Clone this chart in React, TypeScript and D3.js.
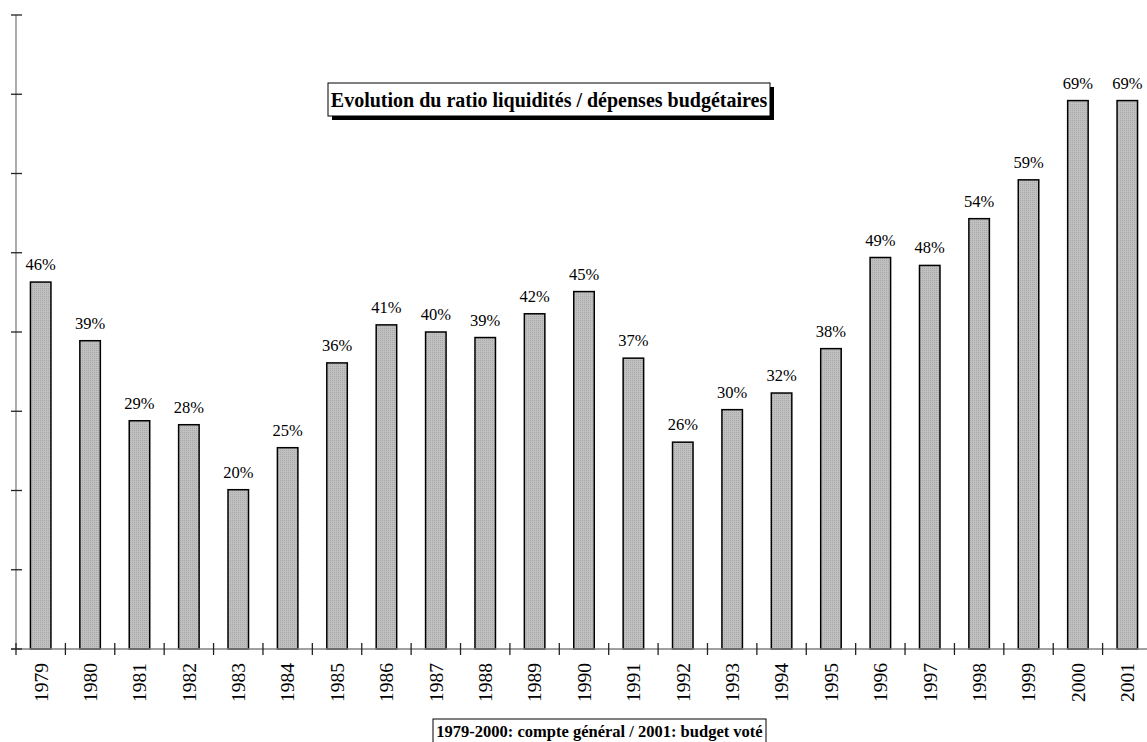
import React, { useEffect, useRef } from 'react';
import * as d3 from 'd3';

const years = ['1979', '1980', '1981', '1982', '1983', '1984', '1985', '1986', '1987', '1988', '1989', '1990',
  '1991', '1992', '1993', '1994', '1995', '1996', '1997', '1998', '1999', '2000', '2001'];
const ratios = [46.3, 38.9, 28.8, 28.3, 20.1, 25.4, 36.1, 40.9, 40.0, 39.3, 42.3, 45.1,
  36.7, 26.1, 30.2, 32.3, 37.9, 49.4, 48.4, 54.3, 59.2, 69.2, 69.2];
const valueLabels = ['46%', '39%', '29%', '28%', '20%', '25%', '36%', '41%', '40%', '39%', '42%', '45%',
  '37%', '26%', '30%', '32%', '38%', '49%', '48%', '54%', '59%', '69%', '69%'];
const yTicks = [0, 10, 20, 30, 40, 50, 60, 70, 80];
const title = 'Evolution du ratio liquidités / dépenses budgétaires';
const footnote = '1979-2000: compte général / 2001: budget voté';

const App: React.FC = () => {
  const svgRef = useRef<SVGSVGElement>(null);

  useEffect(() => {
    if (!svgRef.current) return;
    const svg = d3.select(svgRef.current);
    svg.selectAll('*').remove();

    const width = 1147;
    const height = 742;
    const x0 = 16, x1 = 1152, yBase = 649, yTop = 15;
    const font = "'Liberation Serif', 'DejaVu Serif', serif";

    svg.attr('width', width).attr('height', height).attr('viewBox', `0 0 ${width} ${height}`)
      .attr('font-family', font);

    // dotted grey fill like the original
    const defs = svg.append('defs');
    const pat = defs.append('pattern')
      .attr('id', 'dots')
      .attr('width', 2).attr('height', 2)
      .attr('patternUnits', 'userSpaceOnUse');
    pat.append('rect').attr('width', 2).attr('height', 2).attr('fill', '#c0c0c0');
    pat.append('rect').attr('width', 1).attr('height', 1).attr('fill', '#a8a8a8');

    const x = d3.scaleBand<string>().domain(years).range([x0, x1]).paddingInner(0).paddingOuter(0);
    const y = d3.scaleLinear().domain([0, 80]).range([yBase, yTop]);
    const barW = 20.5;

    // bars
    svg.append('g')
      .selectAll('rect')
      .data(years)
      .join('rect')
      .attr('x', d => x(d)! + x.bandwidth() / 2 - barW / 2)
      .attr('y', (d, i) => y(ratios[i]))
      .attr('width', barW)
      .attr('height', (d, i) => yBase - y(ratios[i]))
      .attr('fill', 'url(#dots)')
      .attr('stroke', '#000')
      .attr('stroke-width', 1.5);

    // value labels
    svg.append('g')
      .attr('text-anchor', 'middle')
      .attr('font-size', 16.5)
      .selectAll('text')
      .data(years)
      .join('text')
      .attr('x', d => x(d)! + x.bandwidth() / 2)
      .attr('y', (d, i) => y(ratios[i]) - 12)
      .text((d, i) => valueLabels[i]);

    // axes
    const axis = svg.append('g').attr('stroke-width', 1.3);
    axis.append('line')
      .attr('x1', x0).attr('x2', x0).attr('y1', yTop).attr('y2', yBase)
      .attr('stroke', '#808080');
    axis.append('line')
      .attr('x1', 11).attr('x2', width).attr('y1', yBase).attr('y2', yBase)
      .attr('stroke', '#808080');
    axis.selectAll('line.yt')
      .data(yTicks)
      .join('line')
      .attr('class', 'yt')
      .attr('x1', 11).attr('x2', 22)
      .attr('y1', d => y(d)).attr('y2', d => y(d))
      .attr('stroke', '#222');
    axis.selectAll('line.xt')
      .data(years.map(d => x(d)!).concat([x1]))
      .join('line')
      .attr('class', 'xt')
      .attr('x1', d => d).attr('x2', d => d)
      .attr('y1', yBase - 6).attr('y2', yBase + 6)
      .attr('stroke', '#222');

    // year labels
    svg.append('g')
      .attr('text-anchor', 'end')
      .attr('font-size', 19.5)
      .selectAll('text')
      .data(years)
      .join('text')
      .attr('transform', d => `translate(${x(d)! + x.bandwidth() / 2},663) rotate(-90)`)
      .attr('dy', '0.35em')
      .text(d => d);

    // title box with shadow
    const tb = { x: 328, y: 83, w: 442, h: 33 };
    const tg = svg.append('g');
    tg.append('rect').attr('x', tb.x + 4).attr('y', tb.y + 4).attr('width', tb.w).attr('height', tb.h).attr('fill', '#000');
    tg.append('rect').attr('x', tb.x).attr('y', tb.y).attr('width', tb.w).attr('height', tb.h)
      .attr('fill', '#fff').attr('stroke', '#000').attr('stroke-width', 1);
    tg.append('text')
      .attr('x', tb.x + tb.w / 2).attr('y', tb.y + tb.h / 2)
      .attr('dy', '0.35em')
      .attr('text-anchor', 'middle')
      .attr('font-size', 20)
      .attr('font-weight', 'bold')
      .text(title);

    // footnote box
    const fb = { x: 433, y: 719, w: 333, h: 30 };
    const fg = svg.append('g');
    fg.append('rect').attr('x', fb.x).attr('y', fb.y).attr('width', fb.w).attr('height', fb.h)
      .attr('fill', '#fff').attr('stroke', '#000').attr('stroke-width', 1);
    fg.append('text')
      .attr('x', fb.x + fb.w / 2).attr('y', 737)
      .attr('text-anchor', 'middle')
      .attr('font-size', 16.5)
      .attr('font-weight', 'bold')
      .text(footnote);
  }, []);

  return <svg ref={svgRef} style={{ position: 'absolute', left: 0, top: 0, background: '#fff' }}></svg>;
};

export default App;
